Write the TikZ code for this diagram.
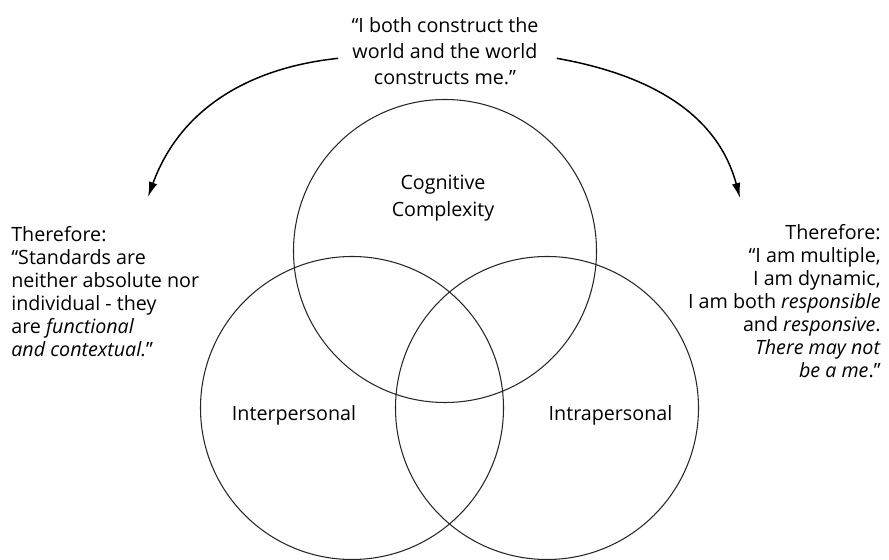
\documentclass[tikz,border=0pt]{standalone}
\usepackage{fontspec}
\setmainfont{Open Sans}
\usetikzlibrary{arrows.meta}

\begin{document}
\begin{tikzpicture}[
	circ/.style={draw=black!85, line width=0.6pt},
	lbl/.style={inner sep=0pt, font=\fontsize{11.2}{14.7}\selectfont},
	side/.style={inner sep=0pt, font=\fontsize{11.2}{13.1}\selectfont},
	arr/.style={line width=0.85pt, -{Latex[length=0.3cm, width=0.17cm]}}
]
	\useasboundingbox (0,0) rectangle (17.78,11.2);

	% the three circles
	\draw [circ] (8.90,6.18) circle (3.03);
	\draw [circ] (7.04,3.04) circle (3.03);
	\draw [circ] (10.94,3.04) circle (3.03);

	\node [lbl, anchor=base] (cog) at (8.86,7.41) {Cognitive};
	\node [lbl, anchor=base] (cplx) at (8.86,6.87) {Complexity};
	\node [lbl, anchor=base] (inter) at (5.88,2.79) {Interpersonal};
	\node [lbl, anchor=base] (intra) at (12.21,2.79) {Intrapersonal};

	% the quote and the two conclusions (base = last line)
	\node [lbl, anchor=base, align=center] (quote) at (8.90,9.51) {“I both construct the\\world and the world\\constructs me.”};
	\node [side, anchor=base west, align=left] (left) at (0.22,4.06) {Therefore:\\“Standards are\\neither absolute nor\\individual - they\\are \textit{functional}\\\textit{and contextual.}”};
	\node [side, anchor=base east, align=right] (right) at (17.62,3.64) {Therefore:\\“I am multiple,\\I am dynamic,\\I am both \textit{responsible}\\and \textit{responsive}.\\\textit{There may not}\\\textit{be a me}.”};

	\coordinate (ltip) at (2.96,7.26);
	\coordinate (rtip) at (14.80,7.24);
	\draw [arr] ([xshift=-0.26cm, yshift=-0.14cm]quote.west) to[out=186, in=70] (ltip);
	\draw [arr] ([xshift=0.36cm, yshift=-0.14cm]quote.east) to[out=-10, in=105] (rtip);
\end{tikzpicture}
\end{document}
